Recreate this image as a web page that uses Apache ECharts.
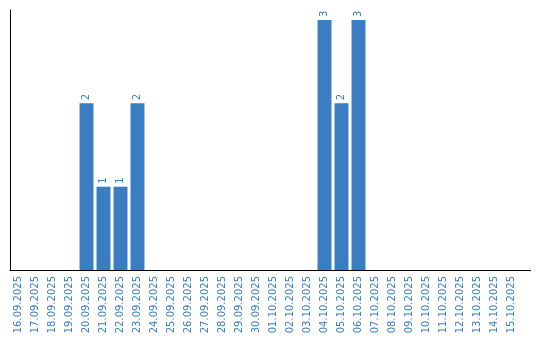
<!DOCTYPE html>
<html><head><meta charset="utf-8">
<script src="https://cdn.jsdelivr.net/npm/echarts@6/dist/echarts.min.js"></script>
<style>html,body{margin:0;padding:0;background:#fff}#c{width:540px;height:340px}</style>
</head><body><div id="c"></div>
<script>
const categories = ["16.09.2025","17.09.2025","18.09.2025","19.09.2025","20.09.2025","21.09.2025","22.09.2025","23.09.2025","24.09.2025","25.09.2025","26.09.2025","27.09.2025","28.09.2025","29.09.2025","30.09.2025","01.10.2025","02.10.2025","03.10.2025","04.10.2025","05.10.2025","06.10.2025","07.10.2025","08.10.2025","09.10.2025","10.10.2025","11.10.2025","12.10.2025","13.10.2025","14.10.2025","15.10.2025"];
const values = [0,0,0,0,2,1,1,2,0,0,0,0,0,0,0,0,0,0,3,2,3,0,0,0,0,0,0,0,0,0];
const blue = '#3a7dc2';
const chart = echarts.init(document.getElementById('c'), null, {renderer:'canvas'});
chart.setOption({
  animation:false,
  grid:{left:10,right:20,top:10,bottom:70,containLabel:false},
  xAxis:{type:'category',data:categories,
    axisLine:{lineStyle:{color:'#000',width:1}},
    axisTick:{show:false},
    axisLabel:{rotate:90,interval:0,color:blue,fontFamily:'DejaVu Sans',fontSize:10,margin:6}},
  yAxis:{type:'value',min:0,max:3.12,
    axisLine:{show:true,lineStyle:{color:'#000',width:1}},
    axisTick:{show:false},axisLabel:{show:false},splitLine:{show:false}},
  series:[{type:'bar',data:values.map(v=>v===0?null:v),barCategoryGap:'18%',
    itemStyle:{color:blue},
    label:{show:true,position:'top',rotate:90,align:'left',verticalAlign:'middle',distance:3,
      color:blue,fontFamily:'DejaVu Sans',fontSize:10}}],
  graphic:[{type:'line',shape:{x1:520,y1:270.5,x2:531,y2:270.5},style:{stroke:'#000',lineWidth:1}}]
});
</script></body></html>
